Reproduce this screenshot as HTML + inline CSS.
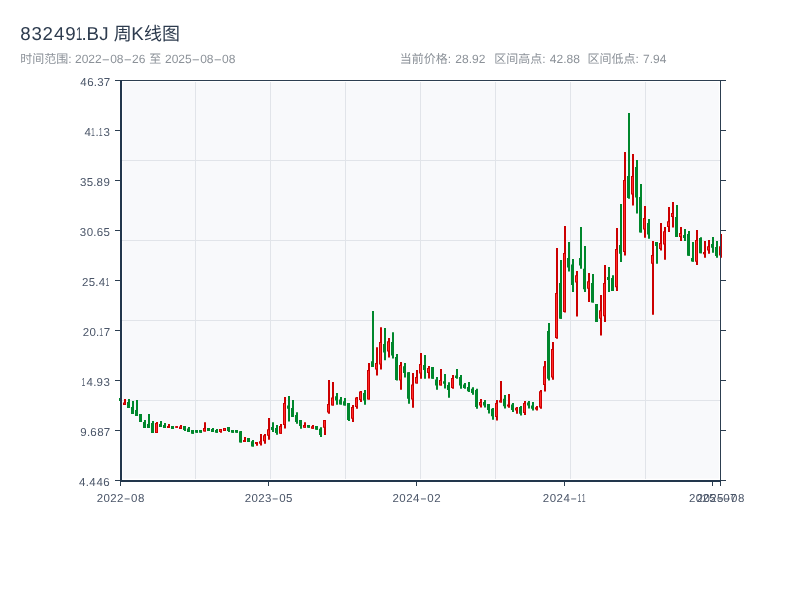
<!DOCTYPE html>
<html lang="zh"><head><meta charset="utf-8"><title>832491.BJ 周K线图</title>
<style>
html,body{margin:0;padding:0;background:#fff;}
body{width:800px;height:600px;overflow:hidden;}
svg{display:block;will-change:transform;}
text{font-family:"Liberation Sans","Noto Sans CJK SC",sans-serif;text-rendering:geometricPrecision;}
.t{font-size:18.7px;fill:#2d3b4e;}
.s{font-size:12px;fill:#8c9299;}
.k{font-size:11.5px;fill:#4a5568;}
</style></head><body>
<svg width="800" height="600" viewBox="0 0 800 600">
<rect width="800" height="600" fill="#fff"/>
<g id="title">
<text class="t" x="20.37 31.56 42.58 53.92 65.25 76 81.54 86.39 99.17" y="39.9">83249<tspan textLength="6.31" lengthAdjust="spacingAndGlyphs">1</tspan>.BJ</text>
<text class="t" style="font-size:18px" x="113.8" y="39.9">周</text>
<text class="t" x="131.29" y="39.9">K</text>
<text class="t" style="font-size:18px" x="143.9 161.9" y="39.9">线图</text>
</g>
<g id="subtitle">
<text class="s" x="20.3 32.3 44.3 56.3" y="62.6">时间范围</text>
<text class="s" x="68.3" y="62.6">:</text>
<text class="s" x="74.96 81.63 88.3 94.97 101.59 110.14 116.81 123.43 131.98 138.65" y="62.6">2022<tspan textLength="8.59" lengthAdjust="spacingAndGlyphs">-</tspan>08<tspan textLength="8.59" lengthAdjust="spacingAndGlyphs">-</tspan>26</text>
<text class="s" x="149.3" y="62.6">至</text>
<text class="s" x="164.98 171.65 178.32 184.99 191.61 200.16 206.83 213.45 222 228.67" y="62.6">2025<tspan textLength="8.59" lengthAdjust="spacingAndGlyphs">-</tspan>08<tspan textLength="8.59" lengthAdjust="spacingAndGlyphs">-</tspan>08</text>
<text class="s" x="399.8 411.8 423.8 435.8" y="62.6">当前价格</text>
<text class="s" x="447.8" y="62.6">:</text>
<text class="s" x="455.37 462.04 468.71 472.04 478.71" y="62.6">28.92</text>
<text class="s" x="494.3 506.3 518.3 530.3" y="62.6">区间高点</text>
<text class="s" x="542.3" y="62.6">:</text>
<text class="s" x="549.87 556.54 563.21 566.54 573.21" y="62.6">42.88</text>
<text class="s" x="587.4 599.4 611.4 623.4" y="62.6">区间低点</text>
<text class="s" x="635.4" y="62.6">:</text>
<text class="s" x="642.97 649.64 652.97 659.64" y="62.6">7.94</text>
</g>
<g id="plot">
<rect x="122.8" y="82.2" width="596" height="396.4" fill="#f8f9fb"/>
<path d="M195.5 82V479 M270.5 82V479 M345.5 82V479 M420.5 82V479 M495.5 82V479 M570.5 82V479 M645.5 82V479 M122 160.5H720 M122 240.5H720 M122 320.5H720 M122 400.5H720" stroke="#e1e4e9" stroke-width="1" fill="none"/>
</g>
<g id="candles">
<path d="M121 398V401 M129 399V408 M133 401V414 M137 400V416 M141 414V422 M145 420V428 M149 414V428 M153 421V433 M161 421V427 M165 423V428 M173 426V429 M185 426V431 M189 427V432 M193 430V433.75 M197 430V432.75 M201 430V432.75 M209 428.1V430.9 M213 428V431.9 M217 429V432.75 M229 426.9V431.9 M233 430V432.75 M237 430V432.75 M241 431V442.5 M249 438.1V441.9 M253 440V446.5 M273 422.25V431.9 M277 425V434.75 M289 396V421.5 M293 400V416.9 M297 412.25V423.75 M301 420V428.75 M309 425V427.75 M317 426V429.75 M321 427.25V436.9 M337 393.1V404.75 M341 396.9V404.4 M345 398.1V405.6 M349 403.1V421 M365 390V404.75 M373 310.9V367.1 M385 328.1V360.25 M393 332.25V358.5 M397 354.1V380.6 M405 363.1V377.5 M409 372.25V403.75 M425 355V378.75 M433 367.1V378.75 M437 377.1V389.75 M445 374V388.5 M449 382.25V397.75 M457 369V378.75 M461 375V388.75 M465 383.1V388.75 M469 381.9V391.9 M473 387.25V394.75 M477 388.75V408.75 M485 400V407.5 M489 404.1V413.5 M493 408.1V419.75 M505 395V408.5 M513 403.1V411.9 M521 406V415.6 M529 401V408.5 M533 401.9V410.6 M549 323.1V380.6 M561 260V318.75 M569 241.9V271.5 M573 259V291.9 M581 227.1V268.75 M585 246V291.9 M593 274V302.5 M597 304V321.9 M609 266.9V291.9 M613 275.25V291 M621 204V261.9 M629 113.1V198.75 M637 160V213.5 M641 184V232.5 M649 219V238.75 M657 242.1V263.7 M677 205V236.9 M685 229V240.9 M689 231V255.7 M693 242V261.8 M701 237.2V253.3 M713 237V252.8 M717 241V257.8" stroke="#00872c" stroke-width="2" fill="none"/>
<path d="M125 399V405 M157 422V433 M169 424V428 M177 426.2V427.8 M181 425V429 M205 422.25V431.5 M221 429V432.75 M225 428.1V430.9 M245 437.1V441.9 M257 442V445.7 M261 434V445.6 M265 434V443.75 M269 418.1V439.75 M281 424V433.75 M285 396.9V428.5 M305 422.25V427.75 M313 425V428.75 M325 420V435 M329 380V413.75 M333 382.1V405.6 M353 405V421.9 M357 396.9V408.75 M361 391V401.9 M369 363.1V399.4 M377 347.25V375.6 M381 327.25V369.4 M389 338.1V357.5 M401 362.1V389.75 M413 373.1V407.75 M417 370V383.5 M421 353.1V378.75 M429 366V378.5 M441 369V385.6 M453 375V388.75 M481 399V407.5 M497 400V420.6 M501 381V402.5 M509 394V407.75 M517 406.9V413.75 M525 401V415 M537 406V410.6 M541 390V408.75 M545 361V391.5 M553 341.9V379.75 M557 248.1V338.75 M565 226V312.5 M577 271V316.5 M589 273.1V301.9 M601 295V335.6 M605 265V321.9 M617 228.1V291 M625 151.9V255.6 M633 154.1V205.6 M645 206V237.75 M653 241V314.7 M661 223.1V250.6 M665 227.1V259.75 M669 206.9V231.9 M673 201.9V227.5 M681 227V240.9 M697 230V264.9 M705 241V257.8 M709 240V253.8 M721 234V257.8" stroke="#cc0000" stroke-width="2" fill="none"/>
<path d="M119 398H122V401H119Z M127 402H130V408H127Z M131 407H134V414H131Z M135 410H138V416H135Z M139 414H142V422H139Z M143 422H146V428H143Z M147 424H150V428H147Z M151 423H154V433H151Z M159 424H162V427H159Z M163 425H166V428H163Z M171 426H174V429H171Z M183 426H186V430H183Z M187 428.5H190V432H187Z M191 430H194V433.75H191Z M195 430H198V432.75H195Z M199 430H202V432.75H199Z M207 428.1H210V430.9H207Z M211 429H214V431.9H211Z M215 430H218V432.75H215Z M227 426.9H230V430.9H227Z M231 430H234V432.75H231Z M235 430H238V432.75H235Z M239 431.25H242V442.5H239Z M247 438.1H250V441.9H247Z M251 441.25H254V446.5H251Z M271 426.9H274V430H271Z M275 428.1H278V433.1H275Z M287 405.4H290V408.75H287Z M291 408.1H294V416.9H291Z M295 415H298V421.9H295Z M299 420H302V426H299Z M307 425H310V427.75H307Z M315 426H318V429.75H315Z M319 428.75H322V435H319Z M335 396.25H338V400.6H335Z M339 399.4H342V404.4H339Z M343 401.25H346V405.6H343Z M347 403.1H350V420H347Z M363 393H366V400.6H363Z M371 361.25H374V367.1H371Z M383 344H386V352.5H383Z M391 342.1H394V355.6H391Z M395 356.9H398V380H395Z M403 366.25H406V373.1H403Z M407 372.25H410V398.75H407Z M423 365H426V370H423Z M431 367.1H434V378.75H431Z M435 379.6H438V385.6H435Z M443 381.25H446V383.75H443Z M447 385H450V390H447Z M455 375.6H458V378.1H455Z M459 376.9H462V385.6H459Z M463 384.4H466V388.1H463Z M467 386.9H470V391.25H467Z M471 388.75H474V393.1H471Z M475 390H478V406.9H475Z M483 401.9H486V405.6H483Z M487 404.1H490V410H487Z M491 408.75H494V416.25H491Z M503 398.75H506V406.25H503Z M511 404.4H514V410H511Z M519 406.9H522V413.75H519Z M527 402.5H530V405.6H527Z M531 405.6H534V408.75H531Z M547 331H550V378.75H547Z M559 283.1H562V318.75H559Z M567 258.1H570V267.5H567Z M571 264.4H574V285H571Z M579 258.1H582V265.6H579Z M583 268.75H586V289.3H583Z M591 283.1H594V302.5H591Z M595 304H598V321.9H595Z M607 276.9H610V280H607Z M611 278.1H614V291H611Z M619 245H622V253.75H619Z M627 176H630V198.1H627Z M635 166.9H638V197.5H635Z M639 196.9H642V232.5H639Z M647 223.1H650V234.4H647Z M655 242.1H658V245.9H655Z M675 216.9H678V236.9H675Z M683 235H686V238.1H683Z M687 233.9H690V255.7H687Z M691 258.1H694V261.5H691Z M699 238H702V253.3H699Z M711 243.9H714V247.8H711Z M715 247H718V256H715Z" fill="#00872c"/>
<path d="M123 402.5H126V405H123Z M155 423H158V433H155Z M167 426H170V428H167Z M175 426.2H178V427.8H175Z M179 426.5H182V429H179Z M203 428.1H206V431.5H203Z M219 429H222V431.9H219Z M223 428.1H226V430.9H223Z M243 440H246V441.9H243Z M255 442H258V443.9H255Z M259 441.25H262V443.75H259Z M263 435.2H266V441.2H263Z M267 429.3H270V435.8H267Z M279 426H282V433.75H279Z M283 403.1H286V425H283Z M303 425H306V427.75H303Z M311 426.25H314V428.75H311Z M323 420H326V427.75H323Z M327 404H330V412.5H327Z M331 397.5H334V405.6H331Z M351 406.9H354V418.75H351Z M355 397.5H358V406.9H355Z M359 391.5H362V400H359Z M367 370H370V399.4H367Z M375 363.1H378V369.4H375Z M379 342.1H382V364.4H379Z M387 341.25H390V351.5H387Z M399 365H402V380.6H399Z M411 384.4H414V399.4H411Z M415 376.9H418V383.5H415Z M419 364H422V373.5H419Z M427 368.1H430V373.1H427Z M439 380H442V385.6H439Z M451 378.1H454V388.1H451Z M479 401.9H482V405.6H479Z M495 403.1H498V416.9H495Z M499 400.25H502V402.5H499Z M507 404.4H510V406.5H507Z M515 407.75H518V410.6H515Z M523 403.1H526V413.1H523Z M535 407.25H538V409.4H535Z M539 391.25H542V407.5H539Z M543 366.25H546V385H543Z M551 349H554V377.5H551Z M555 293.1H558V338.1H555Z M563 253.1H566V311.9H563Z M575 275.25H578V282.5H575Z M587 281.25H590V288.75H587Z M599 310.25H602V318.75H599Z M603 283.1H606V316.25H603Z M615 249H618V287.25H615Z M623 180H626V251.9H623Z M631 176H634V194.4H631Z M643 218.1H646V229.4H643Z M651 255H654V263.75H651Z M659 243.1H662V249H659Z M663 231.25H666V244.4H663Z M667 221.25H670V226.9H667Z M671 213.1H674V216.9H671Z M679 233.1H682V236.9H679Z M695 240H698V261.8H695Z M703 252H706V254.2H703Z M707 246.2H710V250.5H707Z M719 246.2H722V255.5H719Z" fill="#cc0000"/>
<path d="M124 403.5H125V404H124Z M156 424H157V432H156Z M180 427.5H181V428H180Z M204 429.1H205V430.5H204Z M220 430H221V430.9H220Z M224 429.1H225V429.9H224Z M260 442.25H261V442.75H260Z M264 436.2H265V440.2H264Z M268 430.3H269V434.8H268Z M280 427H281V432.75H280Z M284 404.1H285V424H284Z M304 426H305V426.75H304Z M312 427.25H313V427.75H312Z M324 421H325V426.75H324Z M328 405H329V411.5H328Z M332 398.5H333V404.6H332Z M352 407.9H353V417.75H352Z M356 398.5H357V405.9H356Z M360 392.5H361V399H360Z M368 371H369V398.4H368Z M376 364.1H377V368.4H376Z M380 343.1H381V363.4H380Z M388 342.25H389V350.5H388Z M400 366H401V379.6H400Z M412 385.4H413V398.4H412Z M416 377.9H417V382.5H416Z M420 365H421V372.5H420Z M428 369.1H429V372.1H428Z M440 381H441V384.6H440Z M452 379.1H453V387.1H452Z M480 402.9H481V404.6H480Z M496 404.1H497V415.9H496Z M500 401.25H501V401.5H500Z M508 405.4H509V405.5H508Z M516 408.75H517V409.6H516Z M524 404.1H525V412.1H524Z M536 408.25H537V408.4H536Z M540 392.25H541V406.5H540Z M544 367.25H545V384H544Z M552 350H553V376.5H552Z M556 294.1H557V337.1H556Z M564 254.1H565V310.9H564Z M576 276.25H577V281.5H576Z M588 282.25H589V287.75H588Z M600 311.25H601V317.75H600Z M604 284.1H605V315.25H604Z M616 250H617V286.25H616Z M624 181H625V250.9H624Z M632 177H633V193.4H632Z M644 219.1H645V228.4H644Z M652 256H653V262.75H652Z M660 244.1H661V248H660Z M664 232.25H665V243.4H664Z M668 222.25H669V225.9H668Z M672 214.1H673V215.9H672Z M680 234.1H681V235.9H680Z M696 241H697V260.8H696Z M704 253H705V253.2H704Z M708 247.2H709V249.5H708Z M720 247.2H721V254.5H720Z" fill="#ff2a2a"/>
</g>
<g id="axes">
<path d="M115 80.5H726 M720.5 80V482" stroke="#2c3e50" stroke-width="1" fill="none"/>
<path d="M115 130.5H120 M721 130.5H726 M115 180.5H120 M721 180.5H726 M115 230.5H120 M721 230.5H726 M115 280.5H120 M721 280.5H726 M115 330.5H120 M721 330.5H726 M115 380.5H120 M721 380.5H726 M115 430.5H120 M721 430.5H726 M115 480.5H120 M721 480.5H726" stroke="#2c3e50" stroke-width="1" fill="none"/>
<path d="M120.5 481V486 M268.5 481V486 M416.5 481V486 M564.5 481V486 M712.5 481V486 M720.5 481V486" stroke="#2c3e50" stroke-width="1" fill="none"/>
<path d="M121 80V482 M120 481H721" stroke="#22364c" stroke-width="2" fill="none"/>
</g>
<g id="ylabels">
<text class="k" x="80.28 87.16 93.8 97.22 103.68" y="86">46.37</text>
<text class="k" x="84.38 91.08 95.55 98.72 103.45" y="136">4<tspan textLength="3.86" lengthAdjust="spacingAndGlyphs">1</tspan>.<tspan textLength="3.86" lengthAdjust="spacingAndGlyphs">1</tspan>3</text>
<text class="k" x="79.96 86.77 93.19 96.58 103.39" y="186">35.89</text>
<text class="k" x="79.83 86.65 93.31 96.67 103.57" y="236">30.65</text>
<text class="k" x="82.03 88.82 95.24 98.82 105.51" y="286">25.4<tspan textLength="3.86" lengthAdjust="spacingAndGlyphs">1</tspan></text>
<text class="k" x="82.66 89.46 96.12 99.29 103.68" y="336">20.<tspan textLength="3.86" lengthAdjust="spacingAndGlyphs">1</tspan>7</text>
<text class="k" x="81.62 86.51 93.2 96.6 103.45" y="386"><tspan textLength="3.86" lengthAdjust="spacingAndGlyphs">1</tspan>4.93</text>
<text class="k" x="80.37 86.97 90.32 97.17 103.68" y="436">9.687</text>
<text class="k" x="79.09 85.78 89.36 96.47 103.35" y="486">4.446</text>
</g>
<g id="xlabels">
<text class="k" x="96.63 103.44 110.28 116.99 123.73 131.07 137.94" y="501.8">2022<tspan textLength="6.86" lengthAdjust="spacingAndGlyphs">-</tspan>08</text>
<text class="k" x="244.65 251.45 258.3 265.07 271.84 279.17 286.1" y="501.8">2023<tspan textLength="6.86" lengthAdjust="spacingAndGlyphs">-</tspan>05</text>
<text class="k" x="392.48 399.29 406.13 413.06 419.98 427.32 434.16" y="501.8">2024<tspan textLength="6.86" lengthAdjust="spacingAndGlyphs">-</tspan>02</text>
<text class="k" x="542.83 549.64 556.48 563.41 570.33 577.38 581.86" y="501.8">2024<tspan textLength="6.86" lengthAdjust="spacingAndGlyphs">-</tspan><tspan textLength="3.86" lengthAdjust="spacingAndGlyphs">1</tspan><tspan textLength="3.86" lengthAdjust="spacingAndGlyphs">1</tspan></text>
<text class="k" x="688.93 695.74 702.58 709.37 716.01 723.35 729.93" y="501.8">2025<tspan textLength="6.86" lengthAdjust="spacingAndGlyphs">-</tspan>07</text>
<text class="k" x="696.64 703.45 710.29 717.08 723.72 731.06 737.93" y="501.8">2025<tspan textLength="6.86" lengthAdjust="spacingAndGlyphs">-</tspan>08</text>
</g>
</svg>
</body></html>
